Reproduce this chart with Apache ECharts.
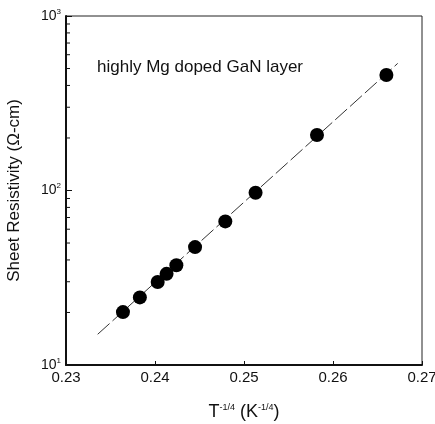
<!DOCTYPE html>
<html>
<head>
<meta charset="utf-8">
<script src="https://cdn.jsdelivr.net/npm/echarts@6/dist/echarts.min.js"></script>
<style>
html, body { margin: 0; padding: 0; background: #fff; }
#main { width: 435px; height: 424px; }
</style>
</head>
<body>
<div id="main"></div>
<script>
var myChart = echarts.init(document.getElementById('main'));

// measured points: T^-1/4 and sheet resistivity
var xVals = [0.2364, 0.2383, 0.2403, 0.2413, 0.2424, 0.2445, 0.2479, 0.2513, 0.2582, 0.2660];
var rhoVals = [20.1, 24.4, 29.9, 33.3, 37.3, 47.4, 66.5, 97, 208, 459];

// straight fit line end points
var fitX = [0.23356, 0.26727];
var fitY = [15.0, 535];

var xTicks = [0.23, 0.24, 0.25, 0.26, 0.27];
var yMinor = [20, 30, 40, 50, 60, 70, 80, 90, 200, 300, 400, 500, 600, 700, 800, 900];

var font = '"Liberation Sans", Arial, sans-serif';

function pairs(xs, ys) {
    var res = [];
    for (var i = 0; i < xs.length; i++) {
        res.push([xs[i], ys[i]]);
    }
    return res;
}

option = {
    backgroundColor: '#fff',
    animation: false,
    textStyle: { fontFamily: font },
    grid: {
        left: 66,
        right: 13,
        top: 16,
        bottom: 59,
        outerBoundsMode: 'none',
        containLabel: false,
        show: true,
        borderColor: '#222',
        borderWidth: 1
    },
    graphic: [{
        type: 'text',
        left: 97,
        top: 59,
        style: {
            text: 'highly Mg doped GaN layer',
            font: '17px ' + font,
            fill: '#111'
        }
    }],
    xAxis: {
        type: 'value',
        min: 0.23,
        max: 0.27,
        interval: 0.01,
        name: 'T{s|-1/4} (K{s|-1/4})',
        nameLocation: 'middle',
        nameGap: 38,
        nameTextStyle: {
            fontSize: 18,
            color: '#111',
            rich: {
                s: { fontSize: 9, padding: [0, 0, 10, 0], color: '#111' }
            }
        },
        axisLine: { lineStyle: { color: '#111', width: 2 } },
        axisTick: { inside: true, length: 4, lineStyle: { color: '#111' } },
        axisLabel: {
            color: '#111',
            fontSize: 15,
            margin: 5,
            formatter: function (v) { return v.toFixed(2); }
        },
        splitLine: { show: false }
    },
    yAxis: {
        type: 'log',
        logBase: 10,
        min: 10,
        max: 1000,
        name: 'Sheet Resistivity (\u03A9-cm)',
        nameLocation: 'middle',
        nameGap: 43,
        nameTextStyle: { fontSize: 17, color: '#111' },
        axisLine: { lineStyle: { color: '#111', width: 2 } },
        axisTick: { inside: true, length: 6, lineStyle: { color: '#111' } },
        axisLabel: {
            color: '#111',
            fontSize: 14,
            margin: 5,
            formatter: function (v) {
                var e = Math.round(Math.log(v) / Math.LN10);
                return '10{s|' + e + '}';
            },
            rich: {
                s: { fontSize: 8, padding: [0, 0, 9, 0], color: '#111' }
            }
        },
        splitLine: { show: false }
    },
    series: [{
        type: 'line',
        data: pairs(fitX, fitY),
        symbol: 'none',
        lineStyle: { color: '#333', width: 1, type: [16, 4] },
        z: 1
    }, {
        type: 'scatter',
        data: pairs(xVals, rhoVals),
        symbolSize: 14,
        itemStyle: { color: '#000', opacity: 1 },
        z: 3
    }, {
        type: 'custom',
        data: yMinor,
        silent: true,
        renderItem: function (params, api) {
            var p = api.coord([xTicks[0], api.value(0)]);
            return {
                type: 'line',
                shape: { x1: p[0], y1: p[1], x2: p[0] + 4, y2: p[1] },
                style: { stroke: '#111', lineWidth: 1 }
            };
        },
        encode: { y: 0 },
        z: 2
    }]
};

myChart.setOption(option);
</script>
</body>
</html>
